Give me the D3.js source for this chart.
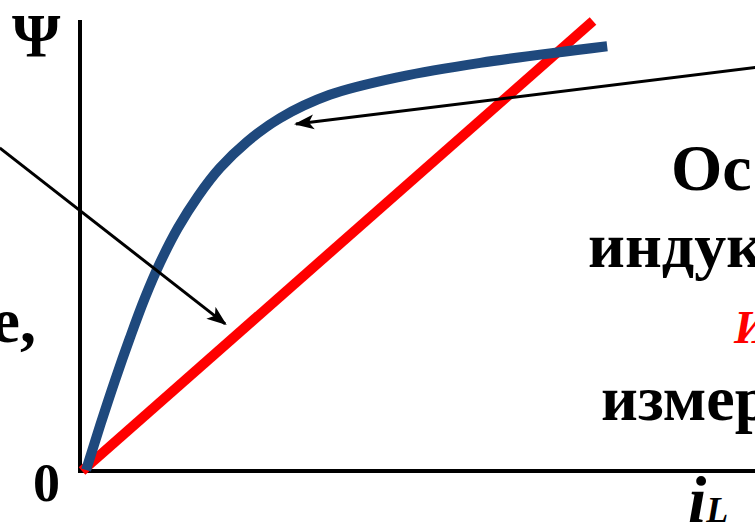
<!DOCTYPE html>
<html lang="ru">
<head>
<meta charset="UTF-8">
<title>Ψ(iL)</title>
<script src="https://cdn.jsdelivr.net/npm/d3@7/dist/d3.min.js"></script>
<style>
  html, body { margin: 0; padding: 0; background: #fff; }
  svg { display: block; }
  text { font-family: "Liberation Serif", "Times New Roman", serif; font-weight: bold; }
</style>
</head>
<body>
<script>
// кривая намагничивания (синяя) и прямая L = const (красная)
let curveX = [0.9, 3.0, 5.2, 7.4, 9.6, 11.9, 14.5, 17.5, 20.7, 24.7, 29.6, 37.0, 47.4, 59.3, 78.1];
let curveY = [0.2, 10.2, 20.2, 29.6, 38.4, 46.4, 54.0, 61.1, 67.3, 73.1, 78.4, 83.6, 87.6, 90.7, 94.4];
let lineX = [0.3, 76];
let lineY = [0, 100];
// стрелки-выноски: [начало, конец]
let arrowsX = [[-11.9, 21.5], [100.7, 32.0]];
let arrowsY = [[71.8, 32.7], [89.8, 77.1]];

let width = 755, height = 530;

let x = d3.scaleLinear().domain([0, 100]).range([80, 755]);
let y = d3.scaleLinear().domain([0, 100]).range([471, 21]);

let svg = d3.select('body').append('svg')
    .attr('width', width)
    .attr('height', height);

let defs = svg.append('defs');
defs.append('marker')
    .attr('id', 'head')
    .attr('markerUnits', 'userSpaceOnUse')
    .attr('viewBox', '0 -8 20 16')
    .attr('refX', 18)
    .attr('refY', 0)
    .attr('markerWidth', 20)
    .attr('markerHeight', 16)
    .attr('orient', 'auto')
    .append('path')
    .attr('d', 'M0,-7.5L20,0L0,7.5L5,0Z')
    .attr('fill', '#000');

// оси
svg.append('line')
    .attr('x1', x(0)).attr('y1', y(0) + 2)
    .attr('x2', x(0)).attr('y2', y(100) - 1)
    .attr('stroke', '#000').attr('stroke-width', 4);
svg.append('line')
    .attr('x1', x(0) - 2).attr('y1', y(0))
    .attr('x2', width).attr('y2', y(0))
    .attr('stroke', '#000').attr('stroke-width', 4);

let lineGen = d3.line()
    .x(d => x(d[0]))
    .y(d => y(d[1]));

// красная прямая
svg.append('path')
    .datum(d3.zip(lineX, lineY))
    .attr('d', lineGen)
    .attr('fill', 'none')
    .attr('stroke', '#ff0000')
    .attr('stroke-width', 10);

// синяя кривая
svg.append('path')
    .datum(d3.zip(curveX, curveY))
    .attr('d', lineGen.curve(d3.curveCatmullRom.alpha(0.5)))
    .attr('fill', 'none')
    .attr('stroke', '#1f497d')
    .attr('stroke-width', 10);

// стрелки
svg.selectAll('.arrow')
    .data(d3.range(arrowsX.length))
    .enter()
    .append('line')
    .attr('class', 'arrow')
    .attr('x1', i => x(arrowsX[i][0]))
    .attr('y1', i => y(arrowsY[i][0]))
    .attr('x2', i => x(arrowsX[i][1]))
    .attr('y2', i => y(arrowsY[i][1]))
    .attr('stroke', '#000')
    .attr('stroke-width', 3)
    .attr('marker-end', 'url(#head)');

// подписи осей
svg.append('text').attr('x', 12).attr('y', 56)
    .attr('font-size', 62).text('Ψ');
svg.append('text').attr('x', 33).attr('y', 501)
    .attr('font-size', 54).text('0');
let il = svg.append('text').attr('x', 688).attr('y', 522)
    .attr('font-style', 'italic');
il.append('tspan').attr('font-size', 66).text('i');
il.append('tspan').attr('font-size', 36).text('L');

// обрезанные по краю подписи
svg.append('text').attr('x', 36).attr('y', 342)
    .attr('text-anchor', 'end').attr('font-size', 64).text('е,');
svg.append('text').attr('x', 671).attr('y', 190)
    .attr('font-size', 66).text('Ос');
svg.append('text').attr('x', 588).attr('y', 267)
    .attr('font-size', 64).text('индук');
svg.append('text').attr('x', 734).attr('y', 343)
    .attr('font-size', 46).attr('font-style', 'italic')
    .attr('fill', '#ff0000').text('И');
svg.append('text').attr('x', 601).attr('y', 420)
    .attr('font-size', 64).text('измер');
</script>
</body>
</html>
